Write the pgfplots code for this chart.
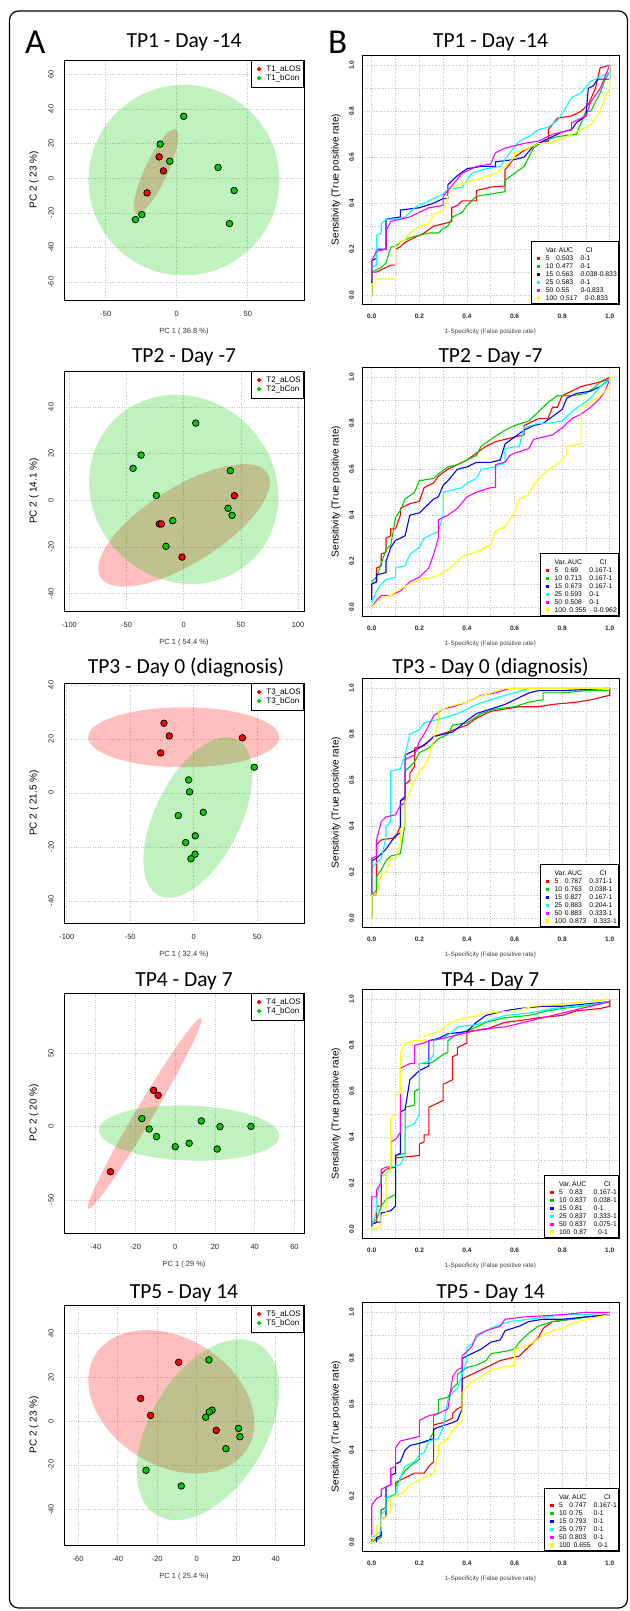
\documentclass[border=0pt]{standalone}
\usepackage{fontspec}
\setmainfont{Liberation Sans}
\newfontfamily\titlefont{Carlito}
\usepackage{pgfplots}
\pgfplotsset{compat=1.18}

\definecolor{rred}{RGB}{255,0,0}
\definecolor{rgreen}{RGB}{0,205,0}
\definecolor{rblue}{RGB}{0,0,255}
\definecolor{rcyan}{RGB}{0,255,255}
\definecolor{rmag}{RGB}{255,0,255}
\definecolor{ryel}{RGB}{255,255,0}
\definecolor{gridgray}{RGB}{195,195,195}

\def\rocwa{10.3pt}
\def\rocwb{24.4pt}
% legend rows of the ROC panels: Var. / AUC / CI
\newcommand\rl[3]{\makebox[\rocwa][l]{#1}\makebox[\rocwb][l]{#2}#3}
\newcommand\rlh[3]{#1\hspace{3.3pt}\makebox[\rocwb][l]{#2}#3}
\newcommand\rochead[1]{\makebox[13pt][l]{Var.}\makebox[#1][l]{AUC}CI}

\pgfplotsset{
  base/.style={scale only axis, anchor=north west,
    axis line style={line width=0.9pt}, major tick length=0pt, minor tick length=0pt,
    /pgf/number format/assume math mode=true,
    grid style={gridgray, dotted, line width=0.6pt},
    minor grid style={gridgray, dotted, line width=0.6pt},
    every axis x label/.style={at={(axis description cs:0.5,0)}, anchor=center},
    legend cell align=left},
  pca/.style={base, width=240pt, height=240pt, grid=major,
    tick label style={font=\fontsize{7.5}{8}\selectfont, text=black!85},
    label style={font=\fontsize{7.5}{8}\selectfont, text=black!80},
    xticklabel style={anchor=center, yshift=-14pt},
    yticklabel style={anchor=center, xshift=-13pt, rotate=90},
    xlabel style={yshift=-31.5pt},
    every axis y label/.style={at={(axis description cs:0,0.5)}, xshift=-30pt, rotate=90, anchor=center},
    legend style={at={(1,1)}, anchor=north east, draw=black, line width=0.6pt,
      font=\fontsize{8}{9}\selectfont, inner xsep=2.5pt, inner ysep=4.3pt, row sep=0pt, column sep=0pt,
      nodes={inner sep=0.5pt, text height=6pt, text depth=2pt}},
    legend image code/.code={\path (0pt,0pt) (11.4pt,0pt); \fill[##1] (4.9pt,0pt) circle (1.9pt);}},
  roc/.style={base, width=257pt, height=249pt, xmin=-0.041, xmax=1.039, ymin=-0.039, ymax=1.045,
    xtick={0,0.2,0.4,0.6,0.8,1}, ytick={0,0.2,0.4,0.6,0.8,1},
    minor xtick={0.1,0.3,0.5,0.7,0.9}, minor ytick={0.1,0.3,0.5,0.7,0.9}, grid=both,
    /pgf/number format/.cd, fixed, fixed zerofill, precision=1, /pgfplots/.cd,
    tick label style={font=\fontsize{6.5}{7}\selectfont\bfseries, text=black!85},
    label style={font=\fontsize{6.3}{7}\selectfont, text=black!75},
    xticklabel style={anchor=center, yshift=-12.4pt},
    yticklabel style={anchor=center, xshift=-10.3pt, rotate=90},
    xlabel style={yshift=-28pt},
    every axis y label/.style={at={(axis description cs:0,0.5)}, xshift=-26pt, rotate=90, anchor=center},
    xlabel={1-Specificity (False positive rate)}, ylabel={Sensitivity (True positive rate)},
    legend style={at={(1,0)}, anchor=south east, draw=black, line width=0.6pt,
      font=\fontsize{6.8}{8}\selectfont, inner xsep=1.5pt, inner ysep=1.6pt, row sep=0pt, column sep=0pt,
      nodes={inner sep=0.4pt, text height=5.4pt, text depth=1.7pt}},
    legend image code/.code={\path (0pt,0pt) (11.4pt,0pt); \fill[##1] (4.05pt,-1.15pt) rectangle (6.35pt,1.15pt);}},
  pr/.style={only marks, mark=*, mark size=3.3pt, color=rred, mark options={draw=black, fill=rred, line width=0.75pt}},
  pg/.style={only marks, mark=*, mark size=3.3pt, color=rgreen, mark options={draw=black, fill=rgreen, line width=0.75pt}},
  rc/.style={no marks, line width=1.1pt, color=#1},
}
\tikzset{
  redfill/.style={fill=rred, fill opacity=0.25},
  greenfill/.style={fill=rgreen, fill opacity=0.25},
  ttl/.style={anchor=base, inner sep=0pt, font=\titlefont\fontsize{21.5}{24}\selectfont},
}

\begin{document}
\begin{tikzpicture}
\path[use as bounding box] (0pt,0pt) rectangle (629pt,-1611pt);
\draw[line width=1.2pt, rounded corners=9pt] (9.5pt,-11pt) rectangle (627.5pt,-1608pt);
\node[anchor=base west, inner sep=0pt, font=\titlefont\fontsize{35}{40}\selectfont] at (25pt,-53pt) {A};
\node[anchor=base west, inner sep=0pt, font=\titlefont\fontsize{35}{40}\selectfont] at (328pt,-53pt) {B};

\node[ttl] at (184pt,-48pt) {TP1 - Day -14};
\node[ttl] at (490.5pt,-48pt) {TP1 - Day -14};
\node[ttl] at (184pt,-362pt) {TP2 - Day -7};
\node[ttl] at (490.5pt,-362pt) {TP2 - Day -7};
\node[ttl] at (186pt,-673pt) {TP3 - Day 0 (diagnosis)};
\node[ttl] at (490.5pt,-673pt) {TP3 - Day 0 (diagnosis)};
\node[ttl] at (184pt,-986pt) {TP4 - Day 7};
\node[ttl] at (490.5pt,-986pt) {TP4 - Day 7};
\node[ttl] at (184pt,-1298pt) {TP5 - Day 14};
\node[ttl] at (490.5pt,-1298pt) {TP5 - Day 14};

% ---------- PCA 1
\begin{axis}[pca, at={(64pt,-60pt)}, xmin=-79.4, xmax=89.6, ymin=-70.3, ymax=68.2,
  xtick={-50,0,50}, ytick={-60,-40,-20,0,20,40,60},
  xlabel={PC 1 ( 36.8 \%)}, ylabel={PC 2 ( 23 \%)}]
\fill[redfill, rotate around={65:(axis cs:-14.6,3.9)}] (axis cs:-14.6,3.9) ellipse [x radius=46.3pt, y radius=11.4pt];
\fill[greenfill] (axis cs:5.05,-1.16) ellipse [x radius=95.5pt, y radius=95.3pt];
\addplot[pr] coordinates {(-12.4,12.3) (-9.4,4.2) (-20.9,-8.5)};
\addlegendentry{T1\_aLOS}
\addplot[pg] coordinates {(4.9,35.7) (-11.7,19.7) (-4.9,9.8) (29.1,6.2) (40.4,-7.1) (37.1,-26.2) (-24.6,-21.0) (-29.1,-23.9)};
\addlegendentry{T1\_bCon}
\end{axis}

% ---------- PCA 2
\begin{axis}[pca, at={(64pt,-371pt)}, xmin=-104.7, xmax=105.2, ymin=-47.4, ymax=55.4,
  xtick={-100,-50,0,50,100}, ytick={-40,-20,0,20,40},
  xlabel={PC 1 ( 54.4 \%)}, ylabel={PC 2 ( 14.1 \%)}]
\fill[redfill, rotate around={32:(axis cs:0.3,-10.7)}] (axis cs:0.3,-10.7) ellipse [x radius=98.3pt, y radius=38pt];
\fill[greenfill, rotate around={-45:(axis cs:0,4.7)}] (axis cs:0,4.7) ellipse [x radius=98.3pt, y radius=90.7pt];
\addplot[pr] coordinates {(44.3,2.0) (-21.3,-10.1) (-19.5,-10.1) (-1.5,-24.3)};
\addlegendentry{T2\_aLOS}
\addplot[pg] coordinates {(10.5,33.1) (-37.3,19.4) (-44.3,13.7) (40.8,12.7) (-23.9,2.1) (38.8,-3.4) (42.3,-6.4) (-9.6,-8.7) (-15.5,-19.7)};
\addlegendentry{T2\_bCon}
\end{axis}

% ---------- PCA 3
\begin{axis}[pca, at={(64pt,-683pt)}, xmin=-102.2, xmax=87.0, ymin=-48.2, ymax=40.7,
  xtick={-100,-50,0,50}, ytick={-40,-20,0,20,40},
  xlabel={PC 1 ( 32.4 \%)}, ylabel={PC 2 ( 21.5 \%)}]
\fill[redfill] (axis cs:-7.8,20.6) ellipse [x radius=95.5pt, y radius=30pt];
\fill[greenfill, rotate around={63.5:(axis cs:3.3,-9.1)}] (axis cs:3.3,-9.1) ellipse [x radius=87.2pt, y radius=42.6pt];
\addplot[pr] coordinates {(-23.4,25.8) (-19.2,21.1) (-26.0,14.8) (38.4,20.4)};
\addlegendentry{T3\_aLOS}
\addplot[pg] coordinates {(47.8,9.5) (-3.9,4.8) (-3.2,0.4) (-12.1,-8.4) (7.6,-7.2) (1.3,-15.9) (-6.3,-18.4) (1.1,-22.7) (-2.1,-24.4)};
\addlegendentry{T3\_bCon}
\end{axis}

% ---------- PCA 4
\begin{axis}[pca, at={(64pt,-993pt)}, xmin=-56, xmax=64.8, ymin=-72.7, ymax=91.3,
  xtick={-40,-20,0,20,40,60}, ytick={-50,0,50},
  xlabel={PC 1 ( 29 \%)}, ylabel={PC 2 ( 20 \%)}]
\fill[redfill, rotate around={59.4:(axis cs:-15.4,9.1)}] (axis cs:-15.4,9.1) ellipse [x radius=110.8pt, y radius=8.7pt];
\fill[greenfill, rotate around={-2:(axis cs:7,-4.4)}] (axis cs:7,-4.4) ellipse [x radius=90.2pt, y radius=27.5pt];
\addplot[pr] coordinates {(-10.9,24.8) (-8.6,21.4) (-32.6,-30.8)};
\addlegendentry{T4\_aLOS}
\addplot[pg] coordinates {(-16.8,5.5) (-13.1,-1.6) (-9.4,-6.8) (0,-13.7) (7.0,-11.4) (13.1,3.9) (22.5,0) (38.1,0.2) (21.1,-15.3)};
\addlegendentry{T4\_bCon}
\end{axis}

% ---------- PCA 5
\begin{axis}[pca, at={(64pt,-1305pt)}, xmin=-67.1, xmax=54.3, ymin=-56.2, ymax=52.7,
  xtick={-60,-40,-20,0,20,40}, ytick={-40,-20,0,20,40},
  xlabel={PC 1 ( 25.4 \%)}, ylabel={PC 2 ( 23 \%)}]
\fill[redfill, rotate around={-31.8:(axis cs:-12.8,8.8)}] (axis cs:-12.8,8.8) ellipse [x radius=89.3pt, y radius=63.6pt];
\fill[greenfill, rotate around={59:(axis cs:5.7,-3.9)}] (axis cs:5.7,-3.9) ellipse [x radius=99.5pt, y radius=57.9pt];
\addplot[pr] coordinates {(-9.1,26.7) (-28.3,10.3) (-23.3,2.6) (9.9,-4.2)};
\addlegendentry{T5\_aLOS}
\addplot[pg] coordinates {(6.2,27.8) (7.8,5.0) (6.4,4.2) (4.6,1.8) (21.2,-3.3) (21.9,-7.1) (14.8,-12.5) (-25.6,-22.3) (-7.8,-29.4)};
\addlegendentry{T5\_bCon}
\end{axis}

% ---------- ROC 1
\begin{axis}[roc, at={(362pt,-55pt)}]
\addlegendimage{empty legend}
\addlegendentry[text height=9.3pt]{\rochead{27pt}}
\addplot[rc=rred] coordinates {(0,0) (0,0.1) (0.02,0.1) (0.04,0.11) (0.06,0.12) (0.08,0.13) (0.1,0.13) (0.1,0.2) (0.12,0.21) (0.14,0.23) (0.18,0.25) (0.22,0.27) (0.26,0.3) (0.3,0.31) (0.336,0.32) (0.336,0.38) (0.36,0.39) (0.38,0.41) (0.44,0.41) (0.44,0.455) (0.5,0.47) (0.56,0.475) (0.56,0.545) (0.58,0.57) (0.6,0.6) (0.64,0.63) (0.68,0.65) (0.72,0.668) (0.742,0.67) (0.742,0.72) (0.78,0.77) (0.84,0.78) (0.88,0.8) (0.91,0.83) (0.94,0.9) (0.96,0.99) (1,1)};
\addlegendentry{\rl{5}{0.503}{0-1}}
\addplot[rc=rgreen] coordinates {(0,0) (0,0.1) (0.02,0.11) (0.04,0.12) (0.06,0.14) (0.08,0.21) (0.1,0.21) (0.12,0.23) (0.16,0.25) (0.2,0.26) (0.24,0.27) (0.28,0.27) (0.3,0.29) (0.32,0.3) (0.34,0.34) (0.38,0.36) (0.4,0.39) (0.44,0.43) (0.5,0.44) (0.56,0.45) (0.56,0.5) (0.6,0.53) (0.64,0.56) (0.66,0.6) (0.68,0.64) (0.72,0.67) (0.78,0.69) (0.86,0.7) (0.9,0.8) (0.92,0.8) (0.94,0.84) (0.96,0.88) (0.98,0.94) (1,0.97) (1,1)};
\addlegendentry{\rl{10}{0.477}{0-1}}
\addplot[rc=rblue] coordinates {(0,0.05) (0,0.15) (0.02,0.16) (0.02,0.2) (0.06,0.2) (0.06,0.33) (0.12,0.34) (0.12,0.37) (0.2,0.38) (0.26,0.4) (0.3,0.42) (0.32,0.42) (0.32,0.48) (0.36,0.52) (0.4,0.55) (0.46,0.56) (0.52,0.56) (0.52,0.58) (0.6,0.59) (0.64,0.6) (0.68,0.65) (0.74,0.68) (0.8,0.71) (0.84,0.72) (0.86,0.75) (0.9,0.78) (0.91,0.9) (0.93,0.91) (0.95,0.94) (1,0.94) (1,1)};
\addlegendentry{\rl{15}{0.563}{0.038-0.833}}
\addplot[rc=rcyan] coordinates {(0,0.12) (0.02,0.13) (0.02,0.26) (0.04,0.27) (0.04,0.31) (0.06,0.33) (0.1,0.33) (0.14,0.34) (0.18,0.38) (0.22,0.4) (0.26,0.42) (0.3,0.44) (0.32,0.46) (0.38,0.47) (0.42,0.53) (0.48,0.55) (0.54,0.56) (0.58,0.62) (0.62,0.67) (0.66,0.69) (0.7,0.72) (0.74,0.73) (0.78,0.76) (0.8,0.79) (0.84,0.86) (0.88,0.88) (0.92,0.93) (0.96,0.95) (1,0.97) (1,1)};
\addlegendentry{\rl{25}{0.583}{0-1}}
\addplot[rc=rmag] coordinates {(0,0.06) (0,0.15) (0.02,0.19) (0.06,0.2) (0.06,0.28) (0.08,0.32) (0.12,0.33) (0.16,0.34) (0.2,0.36) (0.24,0.38) (0.3,0.39) (0.3,0.43) (0.34,0.48) (0.38,0.53) (0.44,0.56) (0.5,0.57) (0.52,0.62) (0.56,0.64) (0.6,0.65) (0.64,0.66) (0.7,0.67) (0.76,0.7) (0.84,0.72) (0.84,0.75) (0.9,0.78) (0.92,0.84) (0.96,0.9) (0.98,0.95) (1,1)};
\addlegendentry{\rl{50}{0.55}{0-0.833}}
\addplot[rc=ryel] coordinates {(0,0) (0,0.05) (0.01,0.05) (0.02,0.07) (0.1,0.07) (0.1,0.22) (0.14,0.24) (0.16,0.27) (0.2,0.3) (0.24,0.31) (0.26,0.35) (0.3,0.37) (0.32,0.43) (0.34,0.47) (0.4,0.49) (0.46,0.51) (0.52,0.53) (0.56,0.56) (0.6,0.6) (0.6,0.62) (0.66,0.64) (0.7,0.66) (0.74,0.66) (0.8,0.68) (0.86,0.71) (0.92,0.74) (0.94,0.77) (0.96,0.8) (0.98,0.86) (1,0.9) (1,1)};
\addlegendentry{\rlh{100}{0.517}{0-0.833}}
\end{axis}

% ---------- ROC 2
\begin{axis}[roc, at={(362pt,-367pt)}]
\addlegendimage{empty legend}
\addlegendentry[text height=9.3pt]{\rochead{32pt}}
\addplot[rc=rred] coordinates {(0,0.1) (0.02,0.11) (0.02,0.17) (0.04,0.18) (0.04,0.23) (0.06,0.24) (0.06,0.3) (0.08,0.31) (0.08,0.34) (0.1,0.34) (0.12,0.4) (0.12,0.43) (0.16,0.45) (0.2,0.46) (0.22,0.52) (0.26,0.54) (0.28,0.57) (0.32,0.6) (0.36,0.62) (0.4,0.64) (0.44,0.67) (0.48,0.7) (0.52,0.72) (0.56,0.73) (0.6,0.74) (0.64,0.75) (0.64,0.79) (0.7,0.82) (0.74,0.82) (0.76,0.87) (0.78,0.87) (0.8,0.92) (0.84,0.94) (0.88,0.96) (0.92,0.97) (0.96,0.98) (1,1)};
\addlegendentry{\rl{5}{0.69}{0.167-1}}
\addplot[rc=rgreen] coordinates {(0,0.11) (0.02,0.13) (0.04,0.19) (0.06,0.25) (0.08,0.27) (0.1,0.39) (0.12,0.42) (0.14,0.47) (0.18,0.5) (0.2,0.55) (0.26,0.56) (0.28,0.58) (0.32,0.61) (0.36,0.62) (0.4,0.64) (0.44,0.66) (0.46,0.7) (0.5,0.73) (0.56,0.77) (0.6,0.79) (0.66,0.81) (0.7,0.85) (0.74,0.89) (0.78,0.92) (0.84,0.92) (0.9,0.93) (0.94,0.96) (0.96,0.98) (1,0.99) (1,1)};
\addlegendentry{\rl{10}{0.713}{0.167-1}}
\addplot[rc=rblue] coordinates {(0,0.03) (0,0.1) (0.02,0.11) (0.02,0.14) (0.06,0.15) (0.06,0.2) (0.08,0.26) (0.1,0.29) (0.14,0.31) (0.16,0.4) (0.2,0.41) (0.24,0.45) (0.26,0.47) (0.28,0.48) (0.3,0.53) (0.32,0.55) (0.36,0.6) (0.4,0.61) (0.44,0.63) (0.5,0.63) (0.54,0.64) (0.56,0.71) (0.6,0.74) (0.64,0.77) (0.68,0.79) (0.72,0.8) (0.76,0.83) (0.8,0.86) (0.82,0.91) (0.86,0.93) (0.92,0.94) (0.96,0.96) (1,0.99)};
\addlegendentry{\rl{15}{0.673}{0.167-1}}
\addplot[rc=rcyan] coordinates {(0,0.02) (0.02,0.07) (0.04,0.1) (0.06,0.12) (0.1,0.13) (0.1,0.17) (0.14,0.18) (0.16,0.23) (0.2,0.26) (0.22,0.3) (0.26,0.32) (0.28,0.33) (0.3,0.4) (0.3,0.5) (0.34,0.51) (0.38,0.52) (0.4,0.54) (0.44,0.56) (0.46,0.6) (0.52,0.61) (0.56,0.63) (0.56,0.69) (0.62,0.7) (0.64,0.78) (0.7,0.8) (0.74,0.8) (0.8,0.81) (0.84,0.85) (0.88,0.88) (0.92,0.91) (0.96,0.96) (1,0.99)};
\addlegendentry{\rl{25}{0.593}{0-1}}
\addplot[rc=rmag] coordinates {(0,0) (0.02,0.03) (0.04,0.05) (0.08,0.05) (0.12,0.07) (0.16,0.11) (0.2,0.13) (0.24,0.17) (0.26,0.23) (0.28,0.3) (0.28,0.38) (0.32,0.4) (0.36,0.43) (0.4,0.48) (0.44,0.5) (0.5,0.52) (0.52,0.52) (0.52,0.62) (0.56,0.63) (0.58,0.66) (0.6,0.67) (0.66,0.69) (0.68,0.73) (0.76,0.75) (0.8,0.78) (0.84,0.82) (0.88,0.84) (0.92,0.87) (0.96,0.91) (0.98,0.94) (1,0.99)};
\addlegendentry{\rl{50}{0.508}{0-1}}
\addplot[rc=ryel] coordinates {(0,0) (0.02,0.02) (0.04,0.04) (0.08,0.05) (0.12,0.08) (0.16,0.1) (0.2,0.12) (0.26,0.13) (0.3,0.15) (0.34,0.18) (0.38,0.22) (0.44,0.24) (0.5,0.27) (0.52,0.33) (0.56,0.35) (0.6,0.41) (0.62,0.47) (0.66,0.49) (0.68,0.53) (0.72,0.58) (0.76,0.61) (0.8,0.64) (0.82,0.67) (0.82,0.7) (0.88,0.71) (0.88,0.87) (0.92,0.89) (0.96,0.92) (1,0.96) (1,1)};
\addlegendentry{\rlh{100}{0.355}{0-0.962}}
\end{axis}

% ---------- ROC 3
\begin{axis}[roc, at={(362pt,-678pt)}]
\addlegendimage{empty legend}
\addlegendentry[text height=9.3pt]{\rochead{32pt}}
\addplot[rc=rred] coordinates {(0,0) (0,0.1) (0.02,0.1) (0.02,0.32) (0.04,0.34) (0.1,0.35) (0.12,0.4) (0.12,0.51) (0.14,0.52) (0.14,0.58) (0.16,0.6) (0.16,0.63) (0.18,0.66) (0.18,0.74) (0.22,0.75) (0.26,0.79) (0.32,0.81) (0.4,0.84) (0.44,0.87) (0.5,0.9) (0.56,0.91) (0.62,0.92) (0.7,0.92) (0.76,0.93) (0.86,0.94) (0.92,0.95) (0.96,0.96) (1,0.97) (1,1)};
\addlegendentry{\rl{5}{0.787}{0.371-1}}
\addplot[rc=rgreen] coordinates {(0,0) (0,0.1) (0.02,0.12) (0.02,0.18) (0.04,0.21) (0.06,0.25) (0.08,0.27) (0.12,0.28) (0.14,0.41) (0.14,0.64) (0.18,0.68) (0.2,0.72) (0.24,0.74) (0.28,0.78) (0.32,0.8) (0.34,0.84) (0.4,0.85) (0.46,0.89) (0.52,0.91) (0.6,0.92) (0.66,0.94) (0.72,0.95) (0.72,0.98) (0.8,0.98) (0.9,0.99) (1,0.99) (1,1)};
\addlegendentry{\rl{10}{0.763}{0.038-1}}
\addplot[rc=rblue] coordinates {(0,0.1) (0,0.25) (0.02,0.26) (0.04,0.28) (0.06,0.3) (0.1,0.36) (0.12,0.37) (0.12,0.51) (0.14,0.53) (0.14,0.71) (0.16,0.72) (0.2,0.74) (0.24,0.77) (0.26,0.79) (0.3,0.8) (0.34,0.81) (0.4,0.86) (0.44,0.89) (0.5,0.91) (0.56,0.93) (0.62,0.96) (0.66,0.98) (0.7,0.99) (0.8,0.99) (1,1)};
\addlegendentry{\rl{15}{0.827}{0.167-1}}
\addplot[rc=rcyan] coordinates {(0,0.1) (0,0.22) (0.02,0.24) (0.04,0.26) (0.06,0.35) (0.06,0.4) (0.08,0.42) (0.08,0.64) (0.12,0.65) (0.14,0.71) (0.16,0.8) (0.2,0.82) (0.22,0.85) (0.26,0.86) (0.3,0.87) (0.36,0.89) (0.4,0.91) (0.44,0.93) (0.5,0.95) (0.56,0.97) (0.6,0.98) (0.66,1.0) (1,1)};
\addlegendentry{\rl{25}{0.883}{0.204-1}}
\addplot[rc=rmag] coordinates {(0,0.1) (0,0.26) (0.02,0.27) (0.02,0.34) (0.04,0.42) (0.06,0.44) (0.1,0.45) (0.12,0.49) (0.14,0.5) (0.14,0.69) (0.18,0.71) (0.2,0.77) (0.22,0.8) (0.24,0.84) (0.26,0.88) (0.3,0.91) (0.34,0.92) (0.4,0.94) (0.46,0.97) (0.52,0.98) (0.58,1.0) (1,1)};
\addlegendentry{\rl{50}{0.883}{0.333-1}}
\addplot[rc=ryel] coordinates {(0,0) (0,0.1) (0.02,0.1) (0.04,0.19) (0.06,0.2) (0.08,0.26) (0.1,0.26) (0.12,0.33) (0.12,0.39) (0.14,0.4) (0.14,0.5) (0.16,0.55) (0.18,0.6) (0.2,0.64) (0.22,0.66) (0.24,0.7) (0.26,0.78) (0.28,0.86) (0.28,0.9) (0.32,0.92) (0.4,0.94) (0.44,0.96) (0.5,0.98) (0.56,1.0) (1,1)};
\addlegendentry{\rlh{100}{0.873}{0.333-1}}
\end{axis}

% ---------- ROC 4
\begin{axis}[roc, at={(362pt,-989pt)}]
\addlegendimage{empty legend}
\addlegendentry[text height=9.3pt]{\rochead{32pt}}
\addplot[rc=rred] coordinates {(0,0.02) (0.02,0.03) (0.02,0.1) (0.04,0.1) (0.04,0.24) (0.06,0.26) (0.1,0.27) (0.1,0.31) (0.2,0.32) (0.2,0.37) (0.22,0.38) (0.22,0.41) (0.24,0.41) (0.24,0.53) (0.28,0.55) (0.3,0.56) (0.3,0.63) (0.32,0.64) (0.34,0.65) (0.34,0.75) (0.36,0.76) (0.36,0.79) (0.38,0.8) (0.4,0.81) (0.4,0.86) (0.48,0.87) (0.56,0.9) (0.64,0.91) (0.7,0.92) (0.8,0.93) (0.86,0.95) (0.96,0.96) (1,0.97) (1,1)};
\addlegendentry{\rl{5}{0.83}{0.167-1}}
\addplot[rc=rgreen] coordinates {(0,0.03) (0.02,0.04) (0.04,0.1) (0.06,0.13) (0.08,0.14) (0.1,0.15) (0.1,0.32) (0.14,0.33) (0.14,0.53) (0.18,0.54) (0.18,0.6) (0.2,0.61) (0.2,0.72) (0.24,0.72) (0.26,0.73) (0.3,0.76) (0.32,0.77) (0.32,0.82) (0.36,0.85) (0.42,0.87) (0.48,0.9) (0.56,0.92) (0.66,0.93) (0.74,0.95) (0.8,0.96) (0.88,0.97) (0.96,0.98) (1,0.99) (1,1)};
\addlegendentry{\rl{10}{0.837}{0.038-1}}
\addplot[rc=rblue] coordinates {(0,0.02) (0.02,0.03) (0.04,0.03) (0.04,0.07) (0.08,0.08) (0.1,0.1) (0.1,0.32) (0.12,0.33) (0.12,0.51) (0.14,0.52) (0.16,0.65) (0.18,0.67) (0.2,0.69) (0.22,0.7) (0.24,0.71) (0.24,0.82) (0.28,0.83) (0.32,0.85) (0.4,0.86) (0.44,0.9) (0.48,0.93) (0.56,0.95) (0.62,0.96) (0.72,0.97) (0.8,0.97) (0.9,0.98) (1,0.99)};
\addlegendentry{\rl{15}{0.81}{0-1}}
\addplot[rc=rcyan] coordinates {(0,0.01) (0.02,0.08) (0.02,0.13) (0.04,0.23) (0.06,0.24) (0.08,0.27) (0.12,0.28) (0.14,0.32) (0.14,0.44) (0.18,0.46) (0.2,0.5) (0.2,0.72) (0.24,0.73) (0.26,0.76) (0.26,0.82) (0.3,0.83) (0.34,0.86) (0.36,0.88) (0.44,0.89) (0.5,0.91) (0.56,0.93) (0.66,0.94) (0.76,0.96) (0.86,0.97) (0.94,0.98) (1,0.99)};
\addlegendentry{\rl{25}{0.837}{0.333-1}}
\addplot[rc=rmag] coordinates {(0,0.01) (0,0.14) (0.02,0.14) (0.02,0.17) (0.04,0.2) (0.04,0.26) (0.06,0.27) (0.08,0.27) (0.08,0.38) (0.1,0.39) (0.12,0.42) (0.12,0.7) (0.16,0.72) (0.18,0.72) (0.18,0.8) (0.22,0.81) (0.24,0.82) (0.3,0.83) (0.38,0.85) (0.46,0.87) (0.56,0.88) (0.68,0.91) (0.76,0.93) (0.84,0.95) (0.92,0.97) (1,0.99)};
\addlegendentry{\rl{50}{0.837}{0.075-1}}
\addplot[rc=ryel] coordinates {(0,0) (0.04,0.01) (0.04,0.06) (0.06,0.06) (0.06,0.24) (0.08,0.26) (0.08,0.48) (0.1,0.5) (0.1,0.58) (0.12,0.59) (0.12,0.77) (0.14,0.81) (0.18,0.82) (0.22,0.82) (0.22,0.84) (0.28,0.86) (0.32,0.89) (0.36,0.91) (0.44,0.93) (0.48,0.94) (0.6,0.95) (0.68,0.97) (0.8,0.98) (0.9,0.99) (1,1)};
\addlegendentry{\rlh{100}{0.87}{0-1}}
\end{axis}

% ---------- ROC 5
\begin{axis}[roc, at={(362pt,-1302pt)}]
\addlegendimage{empty legend}
\addlegendentry[text height=9.3pt]{\rochead{32pt}}
\addplot[rc=rred] coordinates {(0,0) (0,0.01) (0.04,0.02) (0.04,0.14) (0.06,0.15) (0.06,0.19) (0.08,0.2) (0.1,0.21) (0.1,0.26) (0.12,0.27) (0.14,0.28) (0.18,0.3) (0.22,0.3) (0.24,0.33) (0.26,0.35) (0.26,0.51) (0.3,0.52) (0.34,0.54) (0.34,0.56) (0.36,0.58) (0.38,0.59) (0.38,0.71) (0.42,0.73) (0.46,0.75) (0.5,0.77) (0.54,0.79) (0.58,0.8) (0.62,0.81) (0.66,0.85) (0.7,0.89) (0.72,0.93) (0.76,0.96) (0.84,0.97) (0.9,0.98) (1,0.99)};
\addlegendentry{\rl{5}{0.747}{0.167-1}}
\addplot[rc=rgreen] coordinates {(0,0) (0.02,0.01) (0.04,0.02) (0.04,0.14) (0.06,0.15) (0.06,0.19) (0.1,0.21) (0.1,0.24) (0.12,0.28) (0.14,0.31) (0.16,0.33) (0.2,0.36) (0.2,0.43) (0.24,0.44) (0.26,0.48) (0.26,0.55) (0.28,0.56) (0.28,0.62) (0.32,0.63) (0.34,0.67) (0.36,0.69) (0.36,0.73) (0.4,0.76) (0.44,0.77) (0.48,0.79) (0.5,0.82) (0.56,0.83) (0.6,0.84) (0.62,0.87) (0.66,0.91) (0.7,0.94) (0.76,0.96) (0.84,0.97) (0.9,0.98) (1,0.99)};
\addlegendentry{\rl{10}{0.75}{0-1}}
\addplot[rc=rblue] coordinates {(0.02,0) (0.02,0.02) (0.04,0.03) (0.04,0.1) (0.06,0.11) (0.06,0.24) (0.08,0.25) (0.08,0.29) (0.1,0.3) (0.1,0.34) (0.12,0.35) (0.14,0.4) (0.16,0.42) (0.2,0.43) (0.26,0.45) (0.26,0.49) (0.28,0.5) (0.34,0.52) (0.36,0.53) (0.38,0.58) (0.38,0.8) (0.42,0.82) (0.46,0.84) (0.5,0.87) (0.54,0.88) (0.56,0.92) (0.62,0.94) (0.66,0.96) (0.72,0.97) (0.8,0.97) (0.9,0.98) (1,0.99)};
\addlegendentry{\rl{15}{0.793}{0-1}}
\addplot[rc=rcyan] coordinates {(0,0.02) (0.02,0.03) (0.04,0.05) (0.04,0.12) (0.06,0.14) (0.06,0.19) (0.08,0.2) (0.1,0.21) (0.12,0.28) (0.14,0.33) (0.18,0.35) (0.2,0.38) (0.22,0.39) (0.24,0.44) (0.28,0.45) (0.3,0.5) (0.32,0.62) (0.34,0.65) (0.36,0.67) (0.4,0.79) (0.4,0.85) (0.42,0.86) (0.44,0.89) (0.48,0.92) (0.52,0.94) (0.58,0.96) (0.66,0.97) (0.8,0.99) (0.9,0.99) (1,1)};
\addlegendentry{\rl{25}{0.797}{0-1}}
\addplot[rc=rmag] coordinates {(0,0.03) (0,0.16) (0.02,0.19) (0.04,0.2) (0.04,0.23) (0.06,0.24) (0.08,0.25) (0.08,0.32) (0.1,0.33) (0.1,0.41) (0.12,0.44) (0.16,0.45) (0.2,0.46) (0.2,0.53) (0.24,0.55) (0.28,0.56) (0.32,0.58) (0.34,0.72) (0.36,0.75) (0.38,0.76) (0.38,0.81) (0.42,0.85) (0.44,0.9) (0.48,0.92) (0.54,0.94) (0.56,0.97) (0.64,0.98) (0.8,0.99) (0.9,1.0) (1,1)};
\addlegendentry{\rl{50}{0.803}{0-1}}
\addplot[rc=ryel] coordinates {(0,0) (0.02,0.03) (0.02,0.07) (0.04,0.07) (0.04,0.1) (0.06,0.11) (0.08,0.14) (0.08,0.19) (0.1,0.2) (0.14,0.22) (0.16,0.25) (0.18,0.26) (0.22,0.28) (0.26,0.3) (0.28,0.38) (0.28,0.42) (0.32,0.45) (0.34,0.49) (0.38,0.53) (0.38,0.65) (0.42,0.7) (0.46,0.72) (0.5,0.75) (0.54,0.76) (0.6,0.77) (0.6,0.84) (0.64,0.85) (0.68,0.87) (0.72,0.9) (0.76,0.92) (0.8,0.93) (0.84,0.95) (0.9,0.97) (1,0.99)};
\addlegendentry{\rlh{100}{0.655}{0-1}}
\end{axis}
\end{tikzpicture}
\end{document}
